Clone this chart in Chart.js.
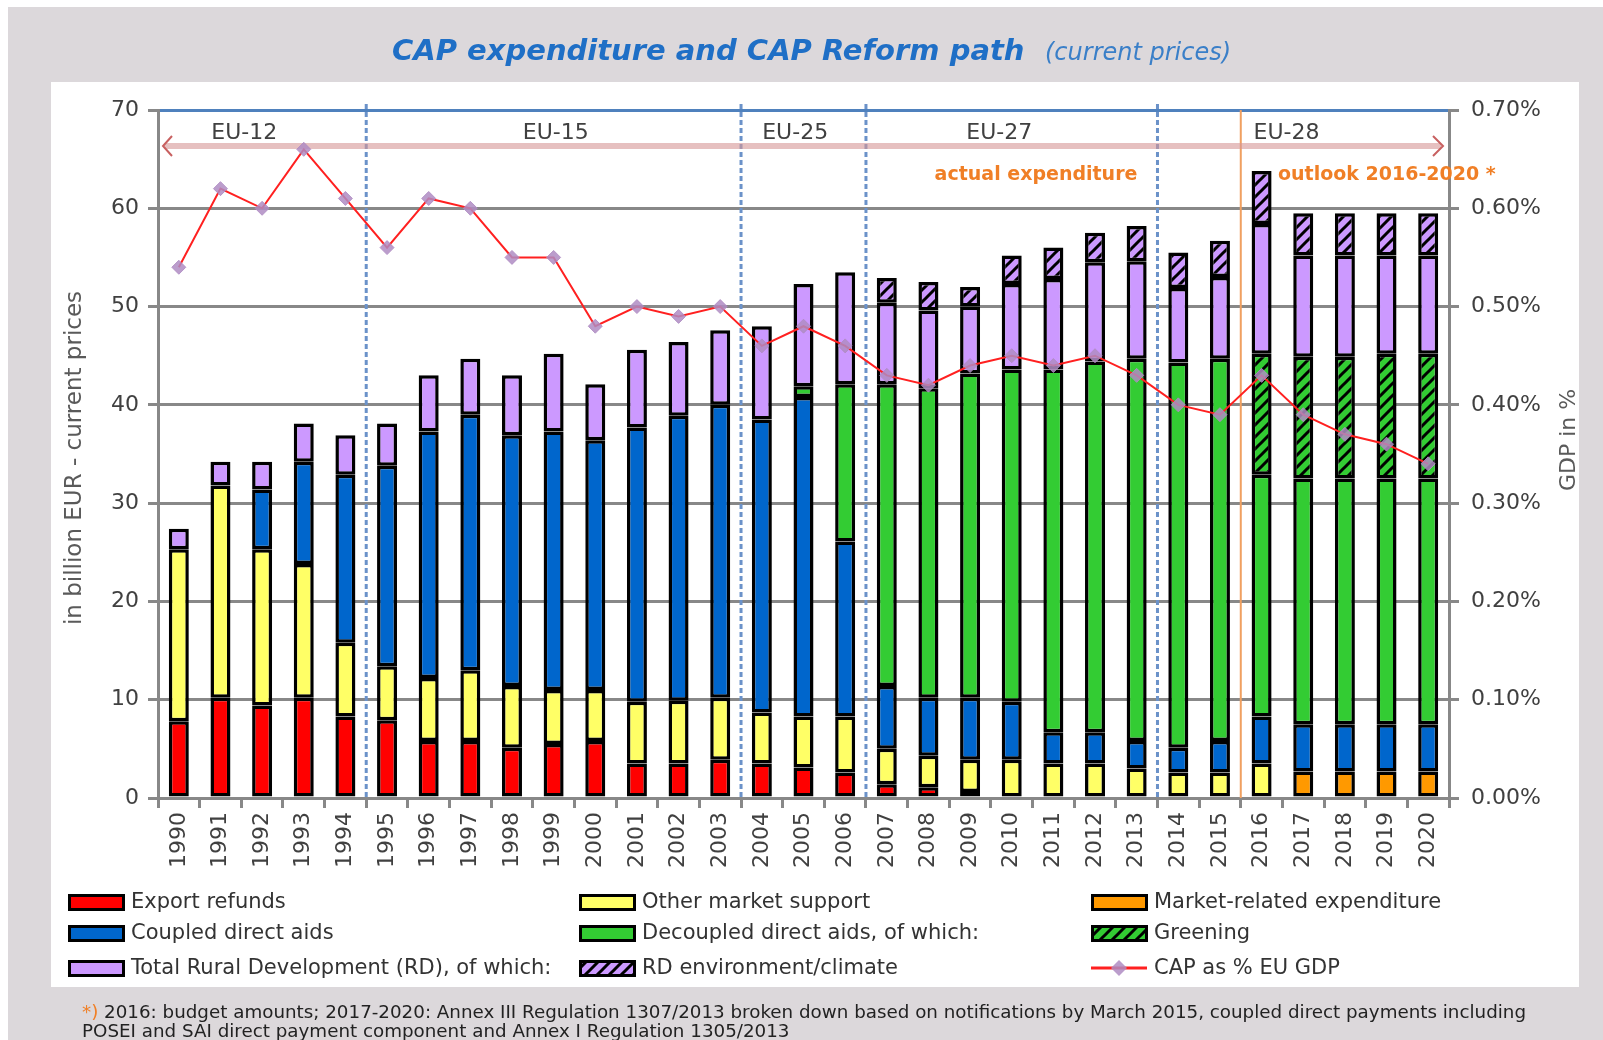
<!DOCTYPE html>
<html>
<head>
<meta charset="utf-8">
<script src="https://cdn.jsdelivr.net/npm/chart.js@4/dist/chart.umd.min.js"></script>
<style>
  html, body { margin: 0; padding: 0; background: #fff; }
  canvas { display: block; }
</style>
</head>
<body>
<canvas id="capChart" width="1603" height="1040"></canvas>
<script>
// categories
const years = ['1990', '1991', '1992', '1993', '1994', '1995', '1996', '1997', '1998', '1999',
    '2000', '2001', '2002', '2003', '2004', '2005', '2006', '2007', '2008', '2009',
    '2010', '2011', '2012', '2013', '2014', '2015', '2016', '2017', '2018', '2019', '2020'];

// series values, billion EUR
const exportRefunds = [7.8, 10.2, 9.4, 10.2, 8.3, 7.9, 5.8, 5.8, 5.1, 5.5, 5.8, 3.5, 3.5, 3.9, 3.5, 3.1,
    2.6, 1.4, 1.1, 0.6, 0, 0, 0, 0, 0, 0, 0, 0, 0, 0, 0];
const otherMarketSupport = [17.5, 21.6, 15.9, 13.6, 7.5, 5.5, 6.4, 7.2, 6.3, 5.5, 5.2, 6.3, 6.4, 6.3, 5.2, 5.2,
    5.7, 3.6, 3.2, 3.3, 3.9, 3.5, 3.5, 3.0, 2.6, 2.6, 3.5, 0, 0, 0, 0];
const marketRelated = [0, 0, 0, 0, 0, 0, 0, 0, 0, 0, 0, 0, 0, 0, 0, 0,
    0, 0, 0, 0, 0, 0, 0, 0, 0, 0, 0, 2.7, 2.7, 2.7, 2.7];
const coupledAids = [0, 0, 6.1, 10.4, 17.1, 20.4, 25.1, 26.0, 25.5, 26.3, 25.4, 27.9, 29.0, 29.8, 29.8, 32.5,
    17.8, 6.4, 5.9, 6.3, 5.9, 3.2, 3.2, 2.8, 2.5, 3.2, 4.8, 4.8, 4.8, 4.8, 4.8];
const decoupledAids = [0, 0, 0, 0, 0, 0, 0, 0, 0, 0, 0, 0, 0, 0, 0, 1.1,
    16.0, 30.7, 31.5, 33.0, 33.8, 36.9, 37.7, 38.9, 39.2, 38.9, 24.6, 25.0, 25.0, 25.0, 25.0];
const greening = [0, 0, 0, 0, 0, 0, 0, 0, 0, 0, 0, 0, 0, 0, 0, 0,
    0, 0, 0, 0, 0, 0, 0, 0, 0, 0, 12.3, 12.4, 12.4, 12.7, 12.7];
const ruralDevelopment = [2.1, 2.4, 2.8, 3.9, 4.0, 4.3, 5.7, 5.7, 6.1, 7.9, 5.7, 7.9, 7.5, 7.6, 9.5, 10.4,
    11.4, 8.3, 7.9, 6.8, 8.7, 9.2, 10.1, 9.9, 7.6, 8.3, 13.2, 10.3, 10.3, 10.0, 10.0];
const rdEnvironment = [0, 0, 0, 0, 0, 0, 0, 0, 0, 0, 0, 0, 0, 0, 0, 0,
    0, 2.5, 2.9, 2.0, 2.9, 3.2, 3.0, 3.6, 3.6, 3.7, 5.4, 4.3, 4.3, 4.3, 4.3];

// CAP as % of EU GDP
const capPctGdp = [0.54, 0.62, 0.60, 0.66, 0.61, 0.56, 0.61, 0.60, 0.55, 0.55, 0.48, 0.50, 0.49, 0.50, 0.46, 0.48,
    0.46, 0.43, 0.42, 0.44, 0.45, 0.44, 0.45, 0.43, 0.40, 0.39, 0.43, 0.39, 0.37, 0.36, 0.34];

// tick values
const leftTicks = [0, 10, 20, 30, 40, 50, 60, 70];
const rightTicks = [0, 0.1, 0.2, 0.3, 0.4, 0.5, 0.6, 0.7];

// enlargement periods (positions in category units)
const eraBoundaries = [5, 14, 17, 24];
const outlookBoundary = 26;
const eraLabels = ['EU-12', 'EU-15', 'EU-25', 'EU-27', 'EU-28'];
const eraLabelPos = [2.07, 9.55, 15.3, 20.2, 27.1];

const W = 1603, H = 1040;
const FONT = '"DejaVu Sans", Verdana, sans-serif';

function hatch(base) {
    const p = document.createElement('canvas');
    p.width = 12; p.height = 12;
    const c = p.getContext('2d');
    c.fillStyle = base;
    c.fillRect(0, 0, 12, 12);
    c.strokeStyle = '#000';
    c.lineWidth = 3;
    c.beginPath();
    c.moveTo(-2, 14); c.lineTo(14, -2);
    c.moveTo(-8, 8); c.lineTo(8, -8);
    c.moveTo(4, 20); c.lineTo(20, 4);
    c.stroke();
    return c.createPattern(p, 'repeat');
}

const orNull = arr => arr.map(v => (v === 0 ? null : v));

const barStyle = {
    type: 'bar',
    yAxisID: 'y',
    stack: 'cap',
    order: 1,
    borderColor: '#000',
    borderWidth: 3.5,
    borderSkipped: false,
    barPercentage: 0.48,
    categoryPercentage: 1.0
};

const datasets = [
    { ...barStyle, label: 'Export refunds', data: orNull(exportRefunds), backgroundColor: '#ff0000' },
    { ...barStyle, label: 'Other market support', data: orNull(otherMarketSupport), backgroundColor: '#ffff66' },
    { ...barStyle, label: 'Market-related expenditure', data: orNull(marketRelated), backgroundColor: '#ff9900' },
    { ...barStyle, label: 'Coupled direct aids', data: orNull(coupledAids), backgroundColor: '#0066cc' },
    { ...barStyle, label: 'Decoupled direct aids, of which:', data: orNull(decoupledAids), backgroundColor: '#33cc33' },
    { ...barStyle, label: 'Greening', data: orNull(greening), backgroundColor: hatch('#33cc33') },
    { ...barStyle, label: 'Total Rural Development (RD), of which:', data: orNull(ruralDevelopment), backgroundColor: '#cc99ff' },
    { ...barStyle, label: 'RD environment/climate', data: orNull(rdEnvironment), backgroundColor: hatch('#cc99ff') },
    {
        type: 'line',
        label: 'CAP as % EU GDP',
        data: capPctGdp,
        yAxisID: 'y2',
        order: 0,
        borderColor: '#ff2020',
        borderWidth: 2,
        tension: 0,
        pointStyle: 'rectRot',
        pointRadius: 7,
        pointBackgroundColor: 'rgba(175,140,195,0.85)',
        pointBorderColor: 'rgba(175,140,195,0.85)',
        pointBorderWidth: 1
    }
];

// background, title, annotations, legend, footnote
const decorations = {
    id: 'decorations',
    beforeDraw(chart) {
        const c = chart.ctx;
        c.save();
        c.fillStyle = '#ffffff';
        c.fillRect(0, 0, W, H);
        c.fillStyle = '#dcd8db';
        c.fillRect(8, 7, W - 8, H - 7);
        c.fillStyle = '#ffffff';
        c.fillRect(51, 82, 1528, 905);

        c.textBaseline = 'alphabetic';
        c.textAlign = 'left';
        c.fillStyle = '#1f6fc6';
        c.font = 'italic bold 29px ' + FONT;
        c.fillText('CAP expenditure and CAP Reform path', 392, 60);
        c.fillStyle = '#3a7fc8';
        c.font = 'italic 24px ' + FONT;
        c.fillText('(current prices)', 1045, 60);
        c.restore();
    },
    beforeDatasetsDraw(chart) {
        const c = chart.ctx;
        const xs = chart.scales.x;
        const area = chart.chartArea;
        const step = (xs.getPixelForValue(1) - xs.getPixelForValue(0));
        const x0 = xs.getPixelForValue(0) - step / 2;
        const bx = b => x0 + b * step;
        c.save();
        c.strokeStyle = '#6b92c9';
        c.lineWidth = 3;
        c.setLineDash([5, 3]);
        eraBoundaries.forEach(b => {
            c.beginPath();
            c.moveTo(bx(b), area.top - 6);
            c.lineTo(bx(b), area.bottom);
            c.stroke();
        });
        c.setLineDash([]);
        c.strokeStyle = '#f0a060';
        c.lineWidth = 2;
        c.beginPath();
        c.moveTo(bx(outlookBoundary), area.top);
        c.lineTo(bx(outlookBoundary), area.bottom);
        c.stroke();

        // double arrow
        const ay = area.top + 36;
        c.strokeStyle = 'rgba(214,150,150,0.6)';
        c.lineWidth = 6;
        c.beginPath();
        c.moveTo(area.left + 6, ay);
        c.lineTo(area.right - 8, ay);
        c.stroke();
        c.strokeStyle = '#c86060';
        c.lineWidth = 2;
        c.beginPath();
        c.moveTo(area.left + 14, ay - 10);
        c.lineTo(area.left + 5, ay);
        c.lineTo(area.left + 14, ay + 10);
        c.moveTo(area.right - 16, ay - 10);
        c.lineTo(area.right - 6, ay);
        c.lineTo(area.right - 16, ay + 10);
        c.stroke();
        c.restore();
    },
    afterDraw(chart) {
        const c = chart.ctx;
        const xs = chart.scales.x;
        const area = chart.chartArea;
        const step = (xs.getPixelForValue(1) - xs.getPixelForValue(0));
        const x0 = xs.getPixelForValue(0) - step / 2;
        c.save();

        // era labels
        c.font = '22px ' + FONT;
        c.fillStyle = '#404040';
        c.textAlign = 'center';
        c.textBaseline = 'middle';
        eraLabels.forEach((t, i) => c.fillText(t, x0 + eraLabelPos[i] * step, area.top + 23));

        c.font = 'bold 19px ' + FONT;
        c.fillStyle = '#f07f26';
        c.fillText('actual expenditure', 1036, area.top + 65);
        c.textAlign = 'left';
        c.fillText('outlook 2016-2020 *', 1278, area.top + 65);

        // axis titles
        c.fillStyle = '#5a5a5a';
        c.font = '23px ' + FONT;
        c.textAlign = 'center';
        c.save();
        c.translate(75, 458);
        c.rotate(-Math.PI / 2);
        c.fillText('in billion EUR - current prices', 0, 0);
        c.restore();
        c.font = '22px ' + FONT;
        c.save();
        c.translate(1569, 440);
        c.rotate(-Math.PI / 2);
        c.fillText('GDP in %', 0, 0);
        c.restore();

        // legend, 3 x 3 grid
        const colX = [68, 579, 1091];
        const rowY = [902, 933, 968];
        c.font = '21px ' + FONT;
        c.textAlign = 'left';
        c.textBaseline = 'middle';
        chart.data.datasets.forEach((ds, i) => {
            const x = colX[i % 3];
            const y = rowY[Math.floor(i / 3)];
            if (ds.type === 'line') {
                c.strokeStyle = ds.borderColor;
                c.lineWidth = 3;
                c.beginPath();
                c.moveTo(x, y);
                c.lineTo(x + 56, y);
                c.stroke();
                c.fillStyle = ds.pointBackgroundColor;
                c.beginPath();
                c.moveTo(x + 28, y - 8);
                c.lineTo(x + 36, y);
                c.lineTo(x + 28, y + 8);
                c.lineTo(x + 20, y);
                c.closePath();
                c.fill();
            } else {
                c.fillStyle = '#000';
                c.fillRect(x, y - 8, 57, 17);
                c.fillStyle = ds.backgroundColor;
                c.fillRect(x + 3, y - 5, 51, 11);
            }
            c.fillStyle = '#333333';
            c.fillText(ds.label, x + 63, y + 1);
        });

        // footnote
        c.textBaseline = 'alphabetic';
        c.font = '18.3px ' + FONT;
        c.fillStyle = '#f07f26';
        c.fillText('*)', 82, 1018);
        const w = c.measureText('*) ').width;
        c.fillStyle = '#222222';
        c.fillText('2016: budget amounts; 2017-2020: Annex III Regulation 1307/2013 broken down based on notifications by March 2015, coupled direct payments including', 82 + w, 1018);
        c.fillText('POSEI and SAI direct payment component and Annex I Regulation 1305/2013', 82, 1037);
        c.restore();
    }
};

new Chart(document.getElementById('capChart'), {
    type: 'bar',
    data: { labels: years, datasets },
    options: {
        responsive: false,
        animation: false,
        events: [],
        layout: { padding: { top: 110, left: 0, right: 0, bottom: 0 } },
        plugins: {
            legend: { display: false },
            title: { display: false },
            tooltip: { enabled: false }
        },
        scales: {
            x: {
                stacked: true,
                offset: true,
                grid: {
                    offset: true,
                    drawOnChartArea: false,
                    color: '#888888',
                    lineWidth: 3,
                    tickLength: 10
                },
                border: { color: '#888888', width: 3 },
                ticks: {
                    autoSkip: false,
                    minRotation: 90,
                    maxRotation: 90,
                    padding: 4,
                    color: '#404040',
                    font: { family: FONT, size: 22 }
                },
                afterFit: s => { s.height = H - 798; }
            },
            y: {
                position: 'left',
                stacked: true,
                min: leftTicks[0],
                max: leftTicks[leftTicks.length - 1],
                afterBuildTicks: s => { s.ticks = leftTicks.map(v => ({ value: v })); },
                grid: {
                    color: ctx => (ctx.tick && ctx.tick.value === 70 ? '#4f81bd' : '#888888'),
                    tickColor: '#888888',
                    lineWidth: 3,
                    tickLength: 10
                },
                border: { color: '#888888', width: 3 },
                ticks: {
                    padding: 9,
                    color: '#404040',
                    font: { family: FONT, size: 22 }
                },
                afterFit: s => { s.width = 158; }
            },
            y2: {
                position: 'right',
                min: rightTicks[0],
                max: rightTicks[rightTicks.length - 1],
                afterBuildTicks: s => { s.ticks = rightTicks.map(v => ({ value: v })); },
                grid: {
                    drawOnChartArea: false,
                    color: '#888888',
                    lineWidth: 3,
                    tickLength: 10
                },
                border: { color: '#888888', width: 3 },
                ticks: {
                    padding: 12,
                    color: '#404040',
                    font: { family: FONT, size: 22 },
                    callback: v => v.toFixed(2) + '%'
                },
                afterFit: s => { s.width = W - 1449; }
            }
        }
    },
    plugins: [decorations]
});
</script>
</body>
</html>
